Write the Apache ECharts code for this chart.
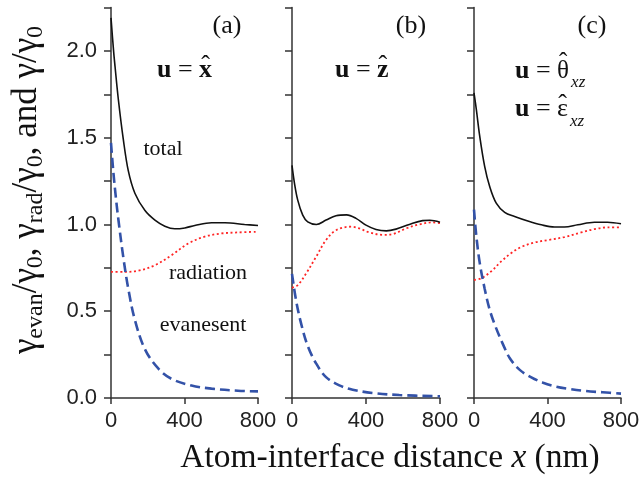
<!DOCTYPE html>
<html>
<head>
<meta charset="utf-8">
<script src="https://cdn.jsdelivr.net/npm/echarts@6/dist/echarts.min.js"></script>
<style>
  html, body { margin: 0; padding: 0; background: #fff; }
  #chart { width: 641px; height: 483px; }
</style>
</head>
<body>
<div id="chart"></div>
<script>
// Normalised decay rates versus atom-interface distance x (nm)
const xTicks = [0, 400, 800];
const yLabelled = [0, 0.5, 1.0, 1.5, 2.0];
const panelTags = ['(a)', '(b)', '(c)'];
const curveNames = ['total', 'radiation', 'evanesent'];

// (a) u = x-hat
const totalA = [[0, 2.19], [14, 2.0], [22, 1.91], [40, 1.72], [67, 1.49], [94, 1.31], [130, 1.18], [185, 1.08], [239, 1.025], [293, 0.99], [347, 0.975], [402, 0.98], [456, 0.994], [547, 1.01], [620, 1.01], [727, 1.0], [800, 0.994]];
const radA = [[0, 0.727], [76, 0.727], [148, 0.733], [239, 0.765], [330, 0.823], [420, 0.89], [510, 0.93], [601, 0.948], [691, 0.954], [800, 0.958]];
const evanA = [[0, 1.47], [13, 1.30], [27, 1.15], [40, 1.03], [67, 0.81], [94, 0.63], [130, 0.45], [185, 0.28], [257, 0.17], [330, 0.11], [438, 0.072], [547, 0.054], [691, 0.042], [800, 0.038]];

// (b) u = z-hat
const totalB = [[0, 1.34], [13, 1.24], [31, 1.14], [58, 1.054], [85, 1.015], [132, 1.0], [184, 1.025], [238, 1.05], [295, 1.055], [346, 1.035], [400, 0.996], [454, 0.971], [510, 0.963], [562, 0.973], [634, 1.0], [706, 1.022], [745, 1.024], [800, 1.013]];
const radB = [[0, 0.635], [31, 0.65], [76, 0.717], [130, 0.813], [184, 0.91], [238, 0.967], [320, 0.987], [364, 0.977], [418, 0.954], [492, 0.94], [544, 0.944], [616, 0.977], [688, 1.0], [760, 1.012], [800, 1.008]];
const evanB = [[0, 0.715], [22, 0.563], [49, 0.43], [85, 0.30], [130, 0.20], [184, 0.12], [256, 0.073], [328, 0.048], [436, 0.029], [580, 0.017], [800, 0.01]];

// (c) u = theta-hat_xz, u = epsilon-hat_xz
const totalC = [[0, 1.758], [13, 1.66], [31, 1.51], [58, 1.335], [85, 1.22], [121, 1.123], [167, 1.07], [221, 1.046], [293, 1.02], [366, 0.998], [438, 0.985], [492, 0.985], [565, 0.998], [655, 1.013], [727, 1.013], [800, 1.004]];
const radC = [[0, 0.68], [40, 0.69], [94, 0.73], [148, 0.787], [203, 0.835], [257, 0.87], [330, 0.896], [402, 0.91], [492, 0.927], [583, 0.954], [655, 0.973], [727, 0.983], [800, 0.983]];
const evanC = [[0, 1.085], [13, 0.93], [31, 0.78], [58, 0.63], [85, 0.51], [114, 0.42], [159, 0.306], [195, 0.229], [249, 0.162], [312, 0.119], [376, 0.088], [448, 0.065], [520, 0.052], [610, 0.04], [700, 0.033], [800, 0.025]];

const panels = [
  { total: totalA, rad: radA, evan: evanA },
  { total: totalB, rad: radB, evan: evanB },
  { total: totalC, rad: radC, evan: evanC }
];

const SANS = "'Liberation Sans', Arial, sans-serif";
const SERIF = "'Liberation Serif', 'Times New Roman', serif";
const INK = '#111';
const AXIS = '#333';

const gridBoxes = [
  { left: 111, width: 147 },
  { left: 292, width: 148 },
  { left: 474, width: 147 }
];

const grid = gridBoxes.map(b => ({
  left: b.left, width: b.width, top: 7.5, bottom: 85,
  containLabel: false, outerBoundsMode: 'none'
}));

const xAxis = gridBoxes.map((b, i) => ({
  gridIndex: i, type: 'value', min: xTicks[0], max: xTicks[xTicks.length - 1],
  interval: xTicks[1] - xTicks[0],
  axisLine: { show: true, onZero: false, lineStyle: { color: AXIS, width: 1.5 } },
  axisTick: { show: true, length: 6, lineStyle: { color: AXIS, width: 1.5 } },
  axisLabel: { margin: 12, fontSize: 22, fontFamily: SANS, color: '#222', formatter: v => String(v) },
  splitLine: { show: false }
}));

const yAxis = gridBoxes.map((b, i) => ({
  gridIndex: i, type: 'value', min: 0, max: 2.25, interval: 0.25,
  axisLine: { show: true, onZero: false, lineStyle: { color: AXIS, width: 1.5 } },
  axisTick: { show: true, length: 7, lineStyle: { color: AXIS, width: 1.5 } },
  axisLabel: {
    show: i === 0, margin: 14, fontSize: 22, fontFamily: SANS, color: '#222',
    formatter: v => {
      const hit = yLabelled.find(t => Math.abs(t - v) < 1e-6);
      return hit === undefined ? '' : hit.toFixed(1);
    }
  },
  splitLine: { show: false }
}));

const series = [];
panels.forEach((p, i) => {
  series.push({
    name: curveNames[1], type: 'line', xAxisIndex: i, yAxisIndex: i, data: p.rad,
    showSymbol: false, smooth: 0.35, z: 2,
    lineStyle: { color: '#ff2424', width: 1.8, type: [2, 2.6], cap: 'butt' }
  });
  series.push({
    name: curveNames[2], type: 'line', xAxisIndex: i, yAxisIndex: i, data: p.evan,
    showSymbol: false, smooth: 0.35, z: 3,
    lineStyle: { color: '#3352a8', width: 2.6, type: [10, 5] }
  });
  series.push({
    name: curveNames[0], type: 'line', xAxisIndex: i, yAxisIndex: i, data: p.total,
    showSymbol: false, smooth: 0.35, z: 4,
    lineStyle: { color: INK, width: 1.6 }
  });
});

// text measuring for the inline math labels
const meas = document.createElement('canvas').getContext('2d');
function textWidth(t, size, weight, style) {
  meas.font = `${style || 'normal'} ${weight || 'normal'} ${size}px ${SERIF}`;
  return meas.measureText(t).width;
}

// lay out a row of pieces (bold u, "=", hatted vector, subscript) left to right
function mathRow(x0, yMid, pieces) {
  const els = [];
  let x = x0;
  pieces.forEach(p => {
    els.push({
      type: 'text', x: x, y: yMid + (p.dy || 0), silent: true,
      style: {
        text: p.t, fontSize: p.size, fontFamily: SERIF, fontWeight: p.weight || 'normal',
        fontStyle: p.style || 'normal', fill: INK, align: 'left', verticalAlign: 'middle'
      }
    });
    const w = textWidth(p.t, p.size, p.weight, p.style);
    if (p.hat) {
      els.push({
        type: 'text', x: x + w / 2, y: yMid + (p.hatDy || -4), silent: true,
        style: { text: '\u02C6', fontSize: p.size, fontFamily: SERIF, fill: INK, align: 'center', verticalAlign: 'middle' }
      });
    }
    x += w + (p.gap || 0);
  });
  return els;
}

const U = { t: 'u', size: 26, weight: 'bold' };
const EQ = { t: ' = ', size: 26 };

const graphic = [];

// panel tags
const tagX = [227, 411, 592];
panelTags.forEach((t, i) => graphic.push({
  type: 'text', x: tagX[i], y: 26, silent: true,
  style: { text: t, fontSize: 26, fontFamily: SERIF, fill: INK, align: 'center', verticalAlign: 'middle' }
}));

// dipole orientation labels
graphic.push(...mathRow(157, 70, [U, EQ, { t: 'x', size: 26, weight: 'bold', hat: true }]));
graphic.push(...mathRow(335, 70, [U, EQ, { t: 'z', size: 26, weight: 'bold', hat: true }]));
graphic.push(...mathRow(515, 71, [U, EQ, { t: '\u03B8', size: 25, hat: true, hatDy: -8, gap: 2 }, { t: 'xz', size: 17, style: 'italic', dy: 12 }]));
graphic.push(...mathRow(515, 109.5, [U, EQ, { t: '\u03B5', size: 26, hat: true, gap: 2 }, { t: 'xz', size: 17, style: 'italic', dy: 12 }]));

// curve names in panel (a)
const nameAt = [[163, 149.5], [208, 273.5], [203, 325.5]];
curveNames.forEach((n, i) => graphic.push({
  type: 'text', x: nameAt[i][0], y: nameAt[i][1], silent: true,
  style: { text: n, fontSize: 22, fontFamily: SERIF, fill: INK, align: 'center', verticalAlign: 'middle' }
}));

// y-axis title with subscripts, reading bottom to top
graphic.push({
  type: 'text', x: 27, y: 190, rotation: Math.PI / 2, silent: true,
  style: {
    text: '{g|\u03B3}{s|evan}{g|/\u03B3}{s|0}{g|, \u03B3}{s|rad}{g|/\u03B3}{s|0}{g|, and \u03B3/\u03B3}{s|0}',
    align: 'center', verticalAlign: 'middle', fill: INK,
    rich: {
      g: { fontSize: 35, fontFamily: SERIF, lineHeight: 42, fill: INK },
      s: { fontSize: 24, fontFamily: SERIF, lineHeight: 22, verticalAlign: 'bottom', fill: INK }
    }
  }
});

// x-axis title
graphic.push({
  type: 'text', x: 390, y: 458, silent: true,
  style: {
    text: '{n|Atom-interface distance }{i|x}{n| (nm)}',
    align: 'center', verticalAlign: 'middle', fill: INK,
    rich: {
      n: { fontSize: 33.5, fontFamily: SERIF, fill: INK },
      i: { fontSize: 33.5, fontFamily: SERIF, fontStyle: 'italic', fill: INK }
    }
  }
});

const chart = echarts.init(document.getElementById('chart'), null, { renderer: 'canvas' });
chart.setOption({
  animation: false,
  backgroundColor: '#fff',
  grid, xAxis, yAxis, series, graphic
});
</script>
</body>
</html>
